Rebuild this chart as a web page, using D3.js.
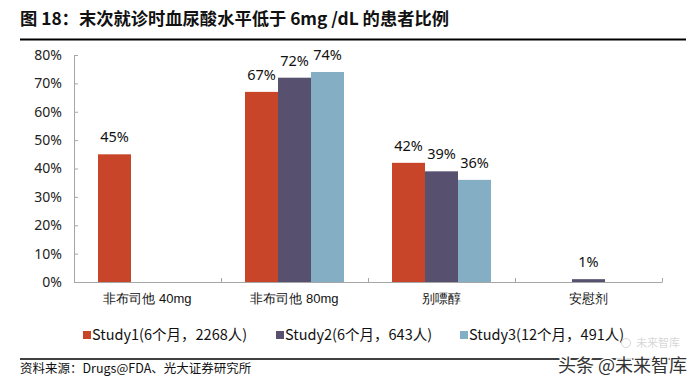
<!DOCTYPE html>
<html><head><meta charset="utf-8">
<script src="https://cdn.jsdelivr.net/npm/d3@7/dist/d3.min.js"></script>
<style>
body{margin:0;background:#fff;}
svg{display:block;font-family:"Noto Sans CJK SC","Noto Sans",sans-serif;}
</style></head>
<body>
<svg id="c" width="700" height="385"></svg>
<script>
const categories = ["非布司他 40mg", "非布司他 80mg", "别嘌醇", "安慰剂"];
const seriesNames = ["Study1(6个月，2268人)", "Study2(6个月，643人)", "Study3(12个月，491人)"];
const study1 = [45, 67, 42, null];
const study2 = [null, 72, 39, 1];
const study3 = [null, 74, 36, null];
const yTicks = [0, 10, 20, 30, 40, 50, 60, 70, 80];
const colors = ["#C8452A", "#58506F", "#84AEC3"];
const seriesValues = [study1, study2, study3];

const svg = d3.select("#c");
const pLeft = 74, pRight = 662, pTop = 55, pBottom = 282;

// Title
svg.append("text").attr("x", 20).attr("y", 25)
  .attr("font-size", 17.3).attr("font-weight", "bold").attr("fill", "#111")
  .text("图 18：末次就诊时血尿酸水平低于 6mg /dL 的患者比例");
svg.append("line").attr("x1", 20).attr("x2", 686).attr("y1", 39.5).attr("y2", 39.5)
  .attr("stroke", "#000").attr("stroke-width", 2);

const x = d3.scaleBand().domain(categories).range([pLeft, pRight]).paddingInner(0).paddingOuter(0);
const xs = d3.scaleBand().domain(d3.range(3)).range([24, x.bandwidth() - 24]);
const y = d3.scaleLinear().domain([0, 80]).range([pBottom, pTop]);

// Y axis
const ya = svg.append("g").attr("transform", `translate(${pLeft},0)`)
  .call(d3.axisLeft(y).tickValues(yTicks).tickFormat(d => d + "%").tickSize(-4).tickPadding(12));
ya.select(".domain").attr("stroke", "#A6A6A6");
ya.selectAll(".tick line").attr("stroke", "#A6A6A6");
ya.selectAll(".tick text").attr("font-size", 14).attr("fill", "#222")
  .attr("font-family", "'Noto Sans','Noto Sans CJK SC',sans-serif");

// Bars
const g = svg.append("g");
seriesValues.forEach((vals, si) => {
  categories.forEach((c, ci) => {
    const v = vals[ci];
    if (v == null) return;
    const bx = x(c) + xs(si);
    g.append("rect").attr("x", bx).attr("y", y(v))
      .attr("width", xs.bandwidth()).attr("height", y(0) - y(v))
      .attr("fill", colors[si]);
    g.append("text").attr("x", bx + xs.bandwidth() / 2).attr("y", y(v) - 12)
      .attr("text-anchor", "middle").attr("font-size", 14.5).attr("fill", "#111")
      .attr("font-family", "'Noto Sans','Noto Sans CJK SC',sans-serif")
      .text(v + "%");
  });
});

// X axis
const xa = svg.append("g").attr("transform", `translate(0,${pBottom})`)
  .call(d3.axisBottom(x).tickSize(0).tickPadding(12));
xa.select(".domain").attr("stroke", "#A6A6A6");
xa.selectAll(".tick text").attr("font-size", 13).attr("fill", "#111");
// category boundary ticks
const bounds = categories.map(c => x(c)).concat([pRight]);
svg.append("g").selectAll("line").data(bounds).join("line")
  .attr("x1", d => d + 0.5).attr("x2", d => d + 0.5)
  .attr("y1", pBottom).attr("y2", pBottom - 4)
  .attr("stroke", "#A6A6A6");

// Legend
const legX = [83, 276, 460];
const lg = svg.append("g");
seriesNames.forEach((n, i) => {
  lg.append("rect").attr("x", legX[i]).attr("y", 331).attr("width", 8).attr("height", 8).attr("fill", colors[i]);
  lg.append("text").attr("x", legX[i] + 9).attr("y", 340).attr("font-size", 14.5).attr("fill", "#111").text(n);
});

// Source
svg.append("line").attr("x1", 20).attr("x2", 686).attr("y1", 359).attr("y2", 359)
  .attr("stroke", "#000").attr("stroke-width", 1.5);
svg.append("text").attr("x", 20).attr("y", 373).attr("font-size", 12.5).attr("fill", "#111")
  .text("资料来源：Drugs@FDA、光大证券研究所");

// Watermark
svg.append("text").attr("x", 636).attr("y", 347).attr("font-size", 11).attr("fill", "#d8d8d8")
  .text("未来智库");
svg.append("circle").attr("cx", 626).attr("cy", 343).attr("r", 4.5).attr("fill", "none").attr("stroke", "#d8d8d8");
svg.append("text").attr("x", 558).attr("y", 372).attr("font-size", 18).attr("fill", "#333")
  .attr("stroke", "#fff").attr("stroke-width", 3).attr("paint-order", "stroke")
  .text("头条 @未来智库");
</script>
</body></html>
